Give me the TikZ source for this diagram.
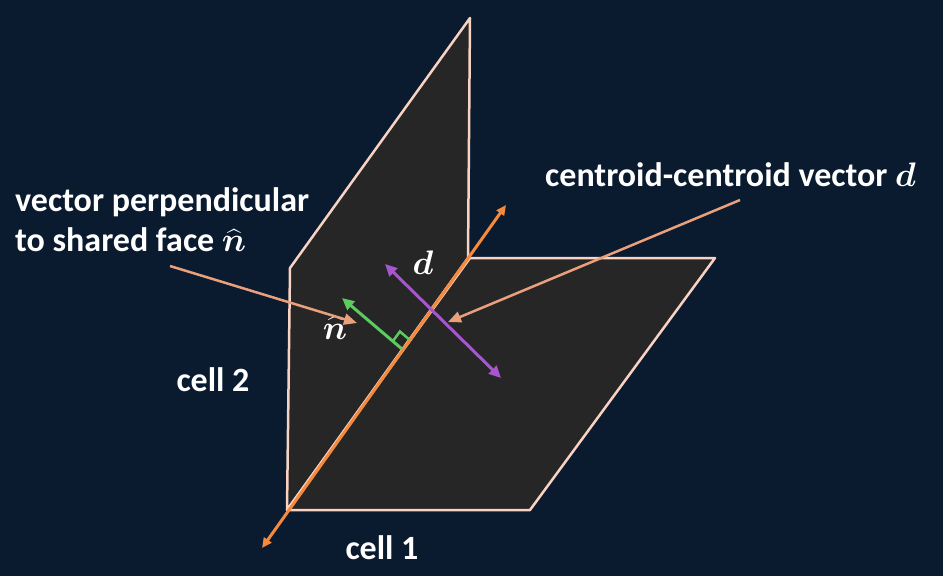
\RequirePackage{fix-cm}
\documentclass[tikz,border=0pt]{standalone}
\usepackage{bm}
\usepackage{amsmath}
\usepackage{fontspec}
\setmainfont{Carlito}
\usetikzlibrary{arrows.meta,calc}
\definecolor{bgcol}{HTML}{0A1A2F}
\definecolor{facecol}{HTML}{262626}
\definecolor{rimcol}{HTML}{F8D2C2}
\definecolor{edgecol}{HTML}{F58A3C}
\definecolor{pointcol}{HTML}{EBA07C}
\definecolor{dcol}{HTML}{A856D0}
\definecolor{ncol}{HTML}{5CCB60}
\tikzset{
  panel/.style={fill=facecol,draw=rimcol,line width=2.5pt,line join=round},
  pointer/.style={pointcol,line width=2.5pt,-{Triangle[length=13pt,width=11pt]}},
  label/.style={text=white,font=\fontsize{34}{40}\selectfont\bfseries,inner sep=0pt},
}
\begin{document}
\begin{tikzpicture}[x=1pt,y=-1pt]
\fill[bgcol] (0,0) rectangle (943,576);
\useasboundingbox (0,0) rectangle (943,576);

%cells
\draw[panel] (287,510) -- (290,268) -- (470,18) -- (468,258) -- cycle;
\draw[panel] (287,510) -- (530,510) -- (715,258) -- (470,258) -- cycle;

%shared face and vectors
\coordinate (e1) at (262,548);
\coordinate (e2) at (506,205);
\draw[edgecol,line width=3pt,{Triangle[length=10pt,width=9pt]}-{Triangle[length=10pt,width=9pt]}] (e1) -- (e2);
\coordinate (d1) at (385,264);
\coordinate (d2) at (501,378);
\draw[dcol,line width=3pt,{Triangle[length=12pt,width=11pt]}-{Triangle[length=12pt,width=11pt]}] (d1) -- (d2);
\coordinate (n0) at (402,349);
\coordinate (n1) at (342,298);
\draw[ncol,line width=3pt,-{Triangle[length=12pt,width=11pt]}] (n0) -- (n1);
\draw[ncol,line width=2.5pt] ($(n0)+(-9.1,-7.8)$) -- ($(n0)+(-9.1+7,-7.8-9.7)$) -- ($(n0)+(7,-9.7)$);

%labels
\node[label,align=left,anchor=west] (perp) at (15,220) {vector perpendicular\\to shared face $\widehat{\bm{n}}$};
\node[label,anchor=west] (cent) at (545,175) {centroid-centroid vector $\bm{d}$};
\node[label] (dlab) at (423,263) {$\bm{d}$};
\node[label] (nlab) at (335,328) {$\widehat{\bm{n}}$};
\node[label] (cell2) at (213,380) {cell 2};
\node[label] (cell1) at (382,548) {cell 1};

%pointers
\coordinate (p1) at (170,266);
\coordinate (p2) at (740,200);
\draw[pointer] (p1) -- (357,323);
\draw[pointer] (p2) -- (448,322);
\end{tikzpicture}
\end{document}
